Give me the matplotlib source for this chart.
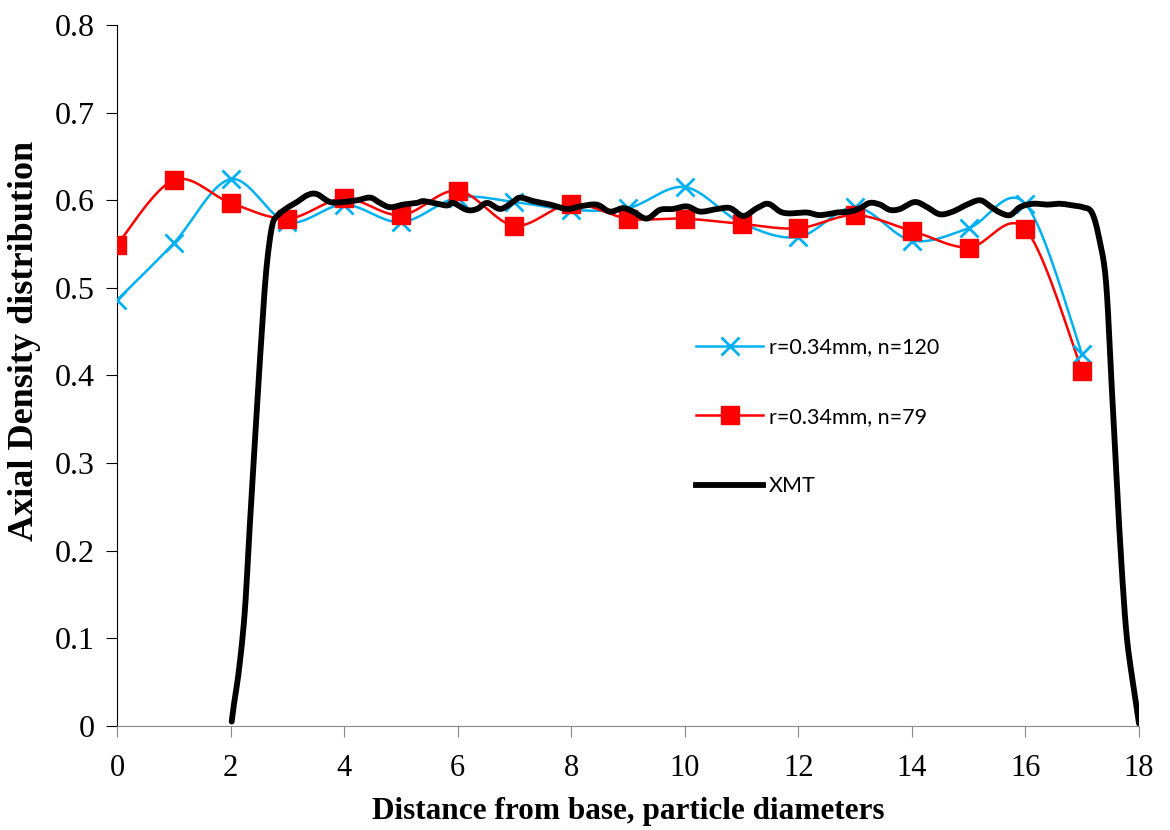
import numpy as np
import matplotlib
matplotlib.use("Agg")
import matplotlib.pyplot as plt

# simulation points, one per particle diameter
x_sim = list(range(18))
n120 = [0.486, 0.551, 0.624, 0.575, 0.595, 0.575, 0.603, 0.598, 0.589, 0.591,
        0.615, 0.574, 0.558, 0.592, 0.554, 0.568, 0.596, 0.424]
n79 = [0.549, 0.623, 0.597, 0.579, 0.602, 0.583, 0.611, 0.571, 0.596, 0.579,
       0.579, 0.573, 0.568, 0.583, 0.565, 0.546, 0.567, 0.405]

# XMT profile
x_xmt = [2.02, 2.06, 2.15, 2.25, 2.34, 2.44, 2.54, 2.63, 2.73, 2.82, 2.99, 3.17,
         3.36, 3.52, 3.75, 3.98, 4.23, 4.46, 4.63, 4.81, 5.04, 5.28, 5.39, 5.57,
         5.81, 5.92, 6.16, 6.34, 6.52, 6.75, 6.97, 7.10, 7.33, 7.63, 7.93, 8.15,
         8.45, 8.68, 8.91, 9.09, 9.33, 9.56, 9.79, 10.04, 10.27, 10.57, 10.80,
         11.03, 11.27, 11.47, 11.68, 11.85, 12.15, 12.38, 12.68, 12.91, 13.09,
         13.26, 13.44, 13.61, 13.79, 14.05, 14.27, 14.49, 14.72, 14.97, 15.20,
         15.38, 15.55, 15.73, 15.90, 16.13, 16.38, 16.61, 16.84, 17.01, 17.17,
         17.30, 17.42, 17.52, 17.65, 17.77, 17.89, 17.96, 18.0]
y_xmt = [0.005, 0.025, 0.065, 0.130, 0.230, 0.337, 0.440, 0.521, 0.570, 0.582,
         0.591, 0.598, 0.606, 0.607, 0.598, 0.598, 0.600, 0.603, 0.597, 0.592,
         0.595, 0.597, 0.599, 0.597, 0.594, 0.597, 0.589, 0.590, 0.597, 0.590,
         0.598, 0.603, 0.599, 0.595, 0.590, 0.593, 0.595, 0.587, 0.591, 0.587,
         0.579, 0.589, 0.590, 0.593, 0.587, 0.590, 0.591, 0.582, 0.591, 0.596,
         0.587, 0.585, 0.586, 0.583, 0.586, 0.587, 0.591, 0.597, 0.595, 0.589,
         0.590, 0.598, 0.592, 0.584, 0.587, 0.595, 0.600, 0.593, 0.586, 0.583,
         0.592, 0.596, 0.595, 0.596, 0.594, 0.592, 0.586, 0.556, 0.506, 0.387,
         0.229, 0.112, 0.050, 0.020, 0.003]


def smooth(xs, ys, n=20):
    # Catmull-Rom curve through the points, like Excel's smoothed line
    xs = np.asarray(xs, float)
    ys = np.asarray(ys, float)
    px = np.concatenate([[xs[0]], xs, [xs[-1]]])
    py = np.concatenate([[ys[0]], ys, [ys[-1]]])
    ox, oy = [], []
    t = np.linspace(0, 1, n, endpoint=False)
    for i in range(1, len(px) - 2):
        for p, o in ((px, ox), (py, oy)):
            p0, p1, p2, p3 = p[i - 1], p[i], p[i + 1], p[i + 2]
            o.extend(0.5 * (2 * p1 + (-p0 + p2) * t
                            + (2 * p0 - 5 * p1 + 4 * p2 - p3) * t ** 2
                            + (-p0 + 3 * p1 - 3 * p2 + p3) * t ** 3))
    ox.append(xs[-1])
    oy.append(ys[-1])
    return ox, oy


blue = '#00B0F0'
red = '#FF0000'

fig = plt.figure(figsize=(11.7, 8.3), dpi=100)
ax = fig.add_axes([0.1, 0.1253, 0.8735, 0.8446])

sx, sy = smooth(x_sim, n120)
ax.plot(sx, sy, color=blue, lw=1.8, zorder=2)
ax.plot(x_sim, n120, ls='none', marker='x', ms=13, mew=2, color=blue, zorder=3)
sx, sy = smooth(x_sim, n79)
ax.plot(sx, sy, color=red, lw=1.8, zorder=2)
ax.plot(x_sim, n79, ls='none', marker='s', ms=13, color=red, zorder=3)
xs, ys = smooth(x_xmt, y_xmt, n=6)
ax.plot(xs, ys, color='black', lw=4.2, solid_capstyle='round',
        solid_joinstyle='round', zorder=4)

# legend handles
h1, = ax.plot([], [], color=blue, lw=1.8, marker='x', ms=13, mew=2)
h2, = ax.plot([], [], color=red, lw=1.8, marker='s', ms=13)
h3, = ax.plot([], [], color='black', lw=4.2)
leg = ax.legend([h1, h2, h3], ['r=0.34mm, n=120', 'r=0.34mm, n=79', 'XMT'],
                loc='upper left', bbox_to_anchor=(0.548, 0.582), frameon=False,
                prop={'family': 'Lato', 'size': 15.5}, labelspacing=2.3,
                handlelength=3.1, handletextpad=0.25)

ax.set_xlim(0, 18)
ax.set_ylim(0, 0.8)
ax.set_xticks(range(0, 19, 2))
ax.set_yticks(np.arange(0, 0.81, 0.1))
ax.set_yticklabels(['0', '0.1', '0.2', '0.3', '0.4', '0.5', '0.6', '0.7', '0.8'])
for s in ['top', 'right']:
    ax.spines[s].set_visible(False)
ax.spines['bottom'].set_color('#888888')
ax.spines['left'].set_color('black')
ax.tick_params(axis='x', direction='out', length=8, color='#888888', pad=12)
ax.tick_params(axis='y', direction='out', length=8, color='black', pad=8)
for lab in ax.get_xticklabels():
    lab.set_family('Liberation Serif')
    lab.set_fontsize(22)
for lab in ax.get_yticklabels():
    lab.set_family('Liberation Serif')
    lab.set_fontsize(23)
ax.set_xlabel('Distance from base, particle diameters', family='Liberation Serif',
              fontsize=22.5, fontweight='bold', labelpad=10)
ax.set_ylabel('Axial Density distribution', family='Liberation Serif',
              fontsize=26, fontweight='bold')
ax.yaxis.set_label_coords(-0.074, 0.55)

fig.savefig('out.png', dpi=100)
